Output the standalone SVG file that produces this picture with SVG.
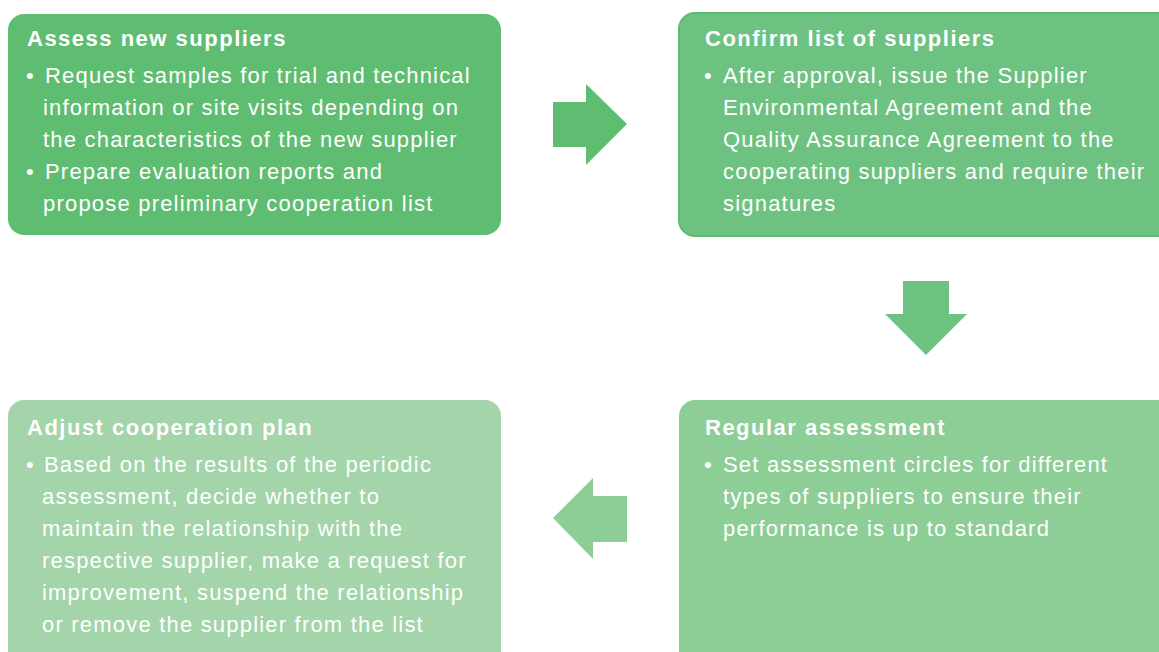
<svg xmlns="http://www.w3.org/2000/svg" width="1159" height="652" viewBox="0 0 1159 652">
<style>
.t{font-family:"Liberation Sans",Arial,sans-serif;font-weight:bold;font-size:22px;letter-spacing:1.5px;fill:#fff}
.b{font-family:"Liberation Sans",Arial,sans-serif;font-size:22px;letter-spacing:1.2px;fill:#fff}
</style>
<rect width="1159" height="652" fill="#fff"/>
<g id="assess-new-suppliers">
<rect x="8" y="14" width="493" height="221" rx="16" fill="#5FBD72"/>
<text class="t" x="27" y="46">Assess new suppliers</text>
<text class="b"><tspan x="26" y="83">•</tspan><tspan x="45" y="83">Request samples for trial and technical</tspan><tspan x="43" y="115">information or site visits depending on</tspan><tspan x="43" y="147">the characteristics of the new supplier</tspan><tspan x="26" y="179">•</tspan><tspan x="45" y="179">Prepare evaluation reports and</tspan><tspan x="43" y="211">propose preliminary cooperation list</tspan></text>
</g>
<g id="confirm-list">
<rect x="679" y="13" width="500" height="223" rx="16" fill="#6EC281" stroke="#5DBB70" stroke-width="2"/>
<text class="t" x="705" y="46">Confirm list of suppliers</text>
<text class="b"><tspan x="704" y="83">•</tspan><tspan x="723" y="83">After approval, issue the Supplier</tspan><tspan x="723" y="115">Environmental Agreement and the</tspan><tspan x="723" y="147">Quality Assurance Agreement to the</tspan><tspan x="723" y="179">cooperating suppliers and require their</tspan><tspan x="723" y="211">signatures</tspan></text>
</g>
<g id="regular-assessment">
<rect x="679" y="400" width="500" height="280" rx="16" fill="#8DCD96"/>
<text class="t" x="705" y="435">Regular assessment</text>
<text class="b"><tspan x="704" y="472">•</tspan><tspan x="723" y="472">Set assessment circles for different</tspan><tspan x="723" y="504">types of suppliers to ensure their</tspan><tspan x="723" y="536">performance is up to standard</tspan></text>
</g>
<g id="adjust-plan">
<rect x="8" y="400" width="493" height="280" rx="16" fill="#A3D4AA"/>
<text class="t" x="27" y="435">Adjust cooperation plan</text>
<text class="b"><tspan x="26" y="472">•</tspan><tspan x="44" y="472">Based on the results of the periodic</tspan><tspan x="42" y="504">assessment, decide whether to</tspan><tspan x="42" y="536">maintain the relationship with the</tspan><tspan x="42" y="568">respective supplier, make a request for</tspan><tspan x="42" y="600">improvement, suspend the relationship</tspan><tspan x="42" y="632">or remove the supplier from the list</tspan></text>
</g>
<g id="connectors">
<polygon points="553,102 586,102 586,84 627,124 586,165 586,147 553,147" fill="#5FBD72"/>
<polygon points="903,281 949,281 949,314 967,314 926,355 885,314 903,314" fill="#6EC281"/>
<polygon points="627,496 593,496 593,478 553,518 593,559 593,542 627,542" fill="#8DCD96"/>
</g>
</svg>
